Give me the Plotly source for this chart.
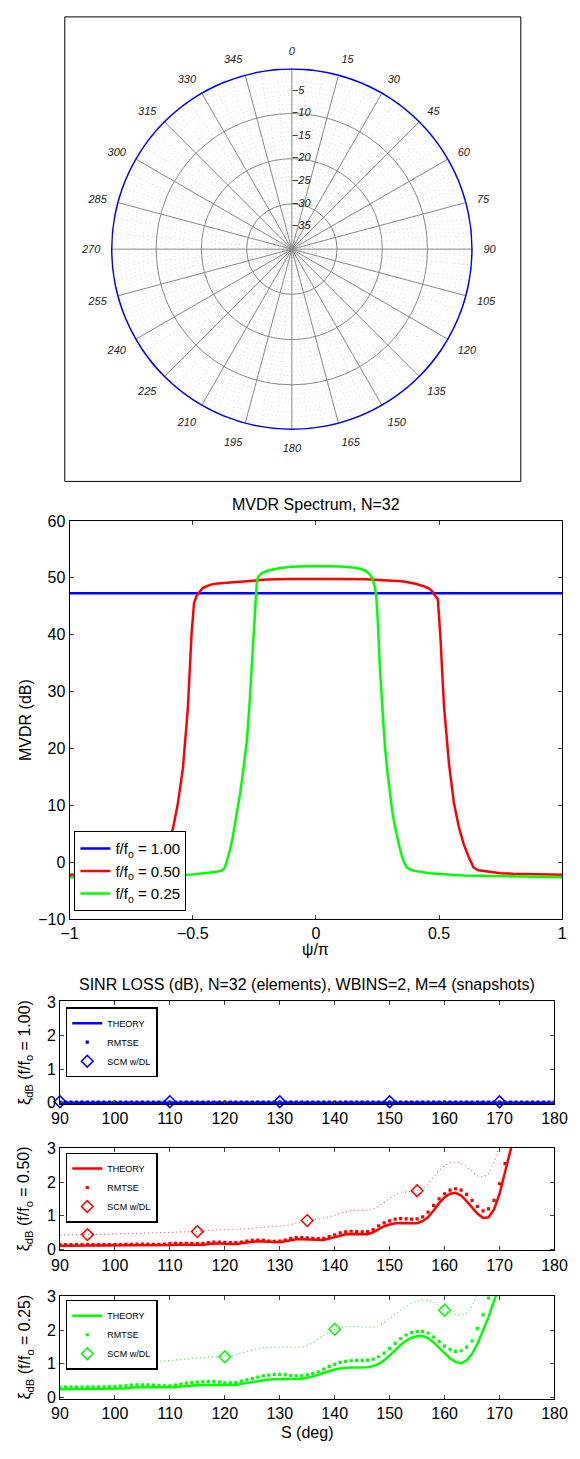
import plotly.graph_objects as go

W, H = 580, 1459
FONT = "Liberation Sans, Arial, Helvetica, sans-serif"

# ---------------- polar panel data ----------------
POLAR_ANGLE_TICKS = [0, 15, 30, 45, 60, 75, 90, 105, 120, 135, 150, 165,
                     180, 195, 210, 225, 240, 255, 270, 285, 300, 315, 330, 345]
POLAR_RADIAL_LABELS = [-5, -10, -15, -20, -25, -30, -35]
POLAR_RINGS = [-10, -20, -30]
POLAR_R_RANGE = [-40, 0]
POLAR_THETA = [0, 15, 30, 45, 60, 75, 90, 105, 120, 135, 150, 165, 180,
               195, 210, 225, 240, 255, 270, 285, 300, 315, 330, 345, 360]
POLAR_R_DB = [0.0, 0.0, 0.0, 0.0, 0.0, 0.0, 0.0, 0.0, 0.0, 0.0, 0.0, 0.0, 0.0,
              0.0, 0.0, 0.0, 0.0, 0.0, 0.0, 0.0, 0.0, 0.0, 0.0, 0.0, 0.0]

# ---------------- MVDR spectrum data ----------------
MVDR_LABELS = ["f/f<sub>o</sub> = 1.00", "f/f<sub>o</sub> = 0.50", "f/f<sub>o</sub> = 0.25"]
PSI_100 = [-1.0, 1.0]
MVDR_100 = [47.3, 47.3]
PSI_050 = [-1.0, -0.9, -0.8, -0.75, -0.7, -0.66, -0.64, -0.62, -0.60, -0.58, -0.56, -0.54,
           -0.52, -0.505, -0.495, -0.485, -0.475, -0.46, -0.44, -0.42, -0.40, -0.35, -0.30,
           -0.2, -0.1, 0.0, 0.1, 0.2, 0.3, 0.35, 0.40, 0.42, 0.44, 0.46, 0.475, 0.485, 0.495,
           0.505, 0.52, 0.54, 0.56, 0.58, 0.60, 0.62, 0.64, 0.66, 0.70, 0.75, 0.8, 0.9, 1.0]
MVDR_050 = [-2.2, -2.15, -2.0, -1.9, -1.6, -1.4, -0.9, 1.0, 3.2, 6.0, 10.5, 16.5,
            27.0, 40.0, 45.5, 46.8, 47.3, 48.2, 48.6, 48.9, 49.0, 49.2, 49.4,
            49.7, 49.8, 49.85, 49.8, 49.75, 49.5, 49.4, 49.0, 48.8, 48.5, 48.1, 47.5, 46.8, 46.3,
            40.0, 27.5, 17.5, 10.5, 6.3, 3.2, 1.0, -0.9, -1.4, -1.6, -1.9, -2.0, -2.15, -2.2]
PSI_025 = [-1.0, -0.9, -0.8, -0.7, -0.6, -0.52, -0.46, -0.43, -0.40, -0.385, -0.37, -0.36,
           -0.35, -0.34, -0.33, -0.32, -0.31, -0.30, -0.29, -0.28, -0.27, -0.26, -0.25, -0.245,
           -0.24, -0.235, -0.23, -0.22, -0.2, -0.15, -0.1, 0.0, 0.1, 0.15, 0.18, 0.2, 0.21,
           0.22, 0.23, 0.24, 0.245, 0.25, 0.26, 0.27, 0.28, 0.29, 0.30, 0.31, 0.32, 0.33,
           0.34, 0.35, 0.36, 0.37, 0.385, 0.40, 0.43, 0.46, 0.52, 0.6, 0.7, 0.8, 0.9, 1.0]
MVDR_025 = [-2.6, -2.55, -2.5, -2.4, -2.3, -2.2, -2.0, -1.8, -1.6, -1.5, -1.0, 0.4,
            2.0, 3.9, 6.3, 8.8, 11.5, 14.5, 17.6, 21.5, 27.5, 35.0, 43.5, 47.5,
            49.3, 50.0, 50.4, 50.8, 51.2, 51.7, 51.95, 52.1, 52.0, 51.8, 51.6, 51.3, 50.9,
            50.6, 49.8, 48.3, 46.8, 43.5, 34.0, 26.5, 20.5, 16.0, 12.2, 9.0, 6.5, 4.4,
            2.6, 1.0, -0.2, -0.9, -1.3, -1.5, -1.7, -1.9, -2.1, -2.3, -2.4, -2.5, -2.55, -2.6]
MVDR_X_TICKS = [-1, -0.5, 0, 0.5, 1]
MVDR_Y_TICKS = [-10, 0, 10, 20, 30, 40, 50, 60]

# ---------------- SINR loss data (1 degree grid) ----------------
S_DEG = list(range(90, 181))
SINR_X_TICKS = [90, 100, 110, 120, 130, 140, 150, 160, 170, 180]
SINR_Y_TICKS = [0, 1, 2, 3]
SINR_SERIES_NAMES = ["THEORY", "RMTSE", "SCM w/DL"]
PANEL_RATIOS = ["1.00", "0.50", "0.25"]

THEORY_100 = [0.00, 0.00, 0.00, 0.00, 0.00, 0.00, 0.00, 0.00, 0.00, 0.00,
              0.00, 0.00, 0.00, 0.00, 0.00, 0.00, 0.00, 0.00, 0.00, 0.00,
              0.00, 0.00, 0.00, 0.00, 0.00, 0.00, 0.00, 0.00, 0.00, 0.00,
              0.00, 0.00, 0.00, 0.00, 0.00, 0.00, 0.00, 0.00, 0.00, 0.00,
              0.00, 0.00, 0.00, 0.00, 0.00, 0.00, 0.00, 0.00, 0.00, 0.00,
              0.00, 0.00, 0.00, 0.00, 0.00, 0.00, 0.00, 0.00, 0.00, 0.00,
              0.00, 0.00, 0.00, 0.00, 0.00, 0.00, 0.00, 0.00, 0.00, 0.00,
              0.00, 0.00, 0.00, 0.00, 0.00, 0.00, 0.00, 0.00, 0.00, 0.00,
              0.00, 0.00, 0.00, 0.00, 0.00, 0.00, 0.00, 0.00, 0.00, 0.00,
              0.00]
RMTSE_100 = [0.02, 0.02, 0.02, 0.02, 0.02, 0.02, 0.02, 0.02, 0.02, 0.02,
             0.02, 0.02, 0.02, 0.02, 0.02, 0.02, 0.02, 0.02, 0.02, 0.02,
             0.02, 0.02, 0.02, 0.02, 0.02, 0.02, 0.02, 0.02, 0.02, 0.02,
             0.02, 0.02, 0.02, 0.02, 0.02, 0.02, 0.02, 0.02, 0.02, 0.02,
             0.02, 0.02, 0.02, 0.02, 0.02, 0.02, 0.02, 0.02, 0.02, 0.02,
             0.02, 0.02, 0.02, 0.02, 0.02, 0.02, 0.02, 0.02, 0.02, 0.02,
             0.02, 0.02, 0.02, 0.02, 0.02, 0.02, 0.02, 0.02, 0.02, 0.02,
             0.02, 0.02, 0.02, 0.02, 0.02, 0.02, 0.02, 0.02, 0.02, 0.02,
             0.02, 0.02, 0.02, 0.02, 0.02, 0.02, 0.02, 0.02, 0.02, 0.02,
             0.02]
SCM_100 = [0.03, 0.03, 0.03, 0.03, 0.03, 0.03, 0.03, 0.03, 0.03, 0.03,
           0.03, 0.03, 0.03, 0.03, 0.03, 0.03, 0.03, 0.03, 0.03, 0.03,
           0.03, 0.03, 0.03, 0.03, 0.03, 0.03, 0.03, 0.03, 0.03, 0.03,
           0.03, 0.03, 0.03, 0.03, 0.03, 0.03, 0.03, 0.03, 0.03, 0.03,
           0.03, 0.03, 0.03, 0.03, 0.03, 0.03, 0.03, 0.03, 0.03, 0.03,
           0.03, 0.03, 0.03, 0.03, 0.03, 0.03, 0.03, 0.03, 0.03, 0.03,
           0.03, 0.03, 0.03, 0.03, 0.03, 0.03, 0.03, 0.03, 0.03, 0.03,
           0.03, 0.03, 0.03, 0.03, 0.03, 0.03, 0.03, 0.03, 0.03, 0.03,
           0.03, 0.03, 0.03, 0.03, 0.03, 0.03, 0.03, 0.03, 0.03, 0.03,
           0.03]
SCM_MARKS_100 = [90, 110, 130, 150, 170]

THEORY_050 = [0.10, 0.10, 0.10, 0.10, 0.10, 0.10, 0.10, 0.10, 0.10, 0.10,
              0.10, 0.10, 0.11, 0.11, 0.12, 0.12, 0.12, 0.11, 0.11, 0.11,
              0.12, 0.13, 0.13, 0.13, 0.13, 0.12, 0.13, 0.15, 0.17, 0.17,
              0.16, 0.15, 0.15, 0.17, 0.20, 0.22, 0.23, 0.22, 0.20, 0.19,
              0.20, 0.23, 0.27, 0.29, 0.29, 0.28, 0.27, 0.26, 0.27, 0.31,
              0.36, 0.41, 0.44, 0.45, 0.44, 0.43, 0.44, 0.50, 0.60, 0.68,
              0.73, 0.77, 0.78, 0.77, 0.76, 0.77, 0.83, 0.95, 1.15, 1.37,
              1.55, 1.65, 1.68, 1.60, 1.43, 1.23, 1.05, 0.93, 0.95, 1.18,
              1.65, 2.30, 2.95, 3.60]
RMTSE_050 = [0.13, 0.13, 0.13, 0.13, 0.13, 0.13, 0.13, 0.13, 0.13, 0.13,
             0.13, 0.13, 0.14, 0.14, 0.15, 0.15, 0.15, 0.14, 0.14, 0.15,
             0.16, 0.17, 0.17, 0.17, 0.17, 0.16, 0.17, 0.19, 0.21, 0.21,
             0.20, 0.19, 0.19, 0.21, 0.24, 0.26, 0.27, 0.26, 0.24, 0.23,
             0.24, 0.27, 0.32, 0.34, 0.34, 0.33, 0.32, 0.31, 0.32, 0.37,
             0.42, 0.48, 0.51, 0.53, 0.52, 0.51, 0.52, 0.58, 0.69, 0.78,
             0.84, 0.89, 0.91, 0.90, 0.89, 0.90, 0.96, 1.10, 1.30, 1.50,
             1.65, 1.76, 1.80, 1.76, 1.63, 1.45, 1.27, 1.14, 1.20, 1.45,
             1.95, 2.55, 3.15]
SCM_050 = [0.42, 0.42, 0.42, 0.42, 0.43, 0.43, 0.43, 0.44, 0.44, 0.45,
           0.45, 0.46, 0.46, 0.47, 0.47, 0.48, 0.48, 0.48, 0.49, 0.49,
           0.50, 0.50, 0.51, 0.51, 0.52, 0.52, 0.54, 0.56, 0.57, 0.58,
           0.58, 0.58, 0.58, 0.59, 0.60, 0.62, 0.64, 0.66, 0.67, 0.67,
           0.68, 0.70, 0.73, 0.77, 0.81, 0.85, 0.88, 0.90, 0.92, 0.96,
           1.01, 1.07, 1.12, 1.15, 1.16, 1.16, 1.16, 1.20, 1.28, 1.40,
           1.52, 1.62, 1.69, 1.72, 1.73, 1.74, 1.80, 1.95, 2.15, 2.35,
           2.50, 2.58, 2.60, 2.56, 2.45, 2.30, 2.18, 2.15, 2.25, 2.60,
           3.10, 3.60]
SCM_MARKS_050 = [95, 115, 135, 155]

THEORY_025 = [0.24, 0.24, 0.24, 0.24, 0.24, 0.24, 0.25, 0.25, 0.25, 0.25,
              0.25, 0.26, 0.27, 0.29, 0.30, 0.30, 0.30, 0.29, 0.29, 0.29,
              0.29, 0.30, 0.32, 0.34, 0.35, 0.36, 0.37, 0.37, 0.37, 0.36,
              0.36, 0.36, 0.37, 0.40, 0.43, 0.46, 0.49, 0.52, 0.53, 0.54,
              0.54, 0.54, 0.54, 0.54, 0.55, 0.58, 0.62, 0.67, 0.73, 0.79,
              0.83, 0.86, 0.88, 0.89, 0.89, 0.89, 0.90, 0.93, 1.00, 1.10,
              1.24, 1.40, 1.56, 1.69, 1.78, 1.82, 1.83, 1.77, 1.64, 1.47,
              1.30, 1.16, 1.06, 1.01, 1.10, 1.30, 1.60, 2.00, 2.40, 2.88,
              3.35]
RMTSE_025 = [0.30, 0.30, 0.30, 0.30, 0.30, 0.30, 0.31, 0.31, 0.31, 0.31,
             0.32, 0.33, 0.34, 0.36, 0.37, 0.37, 0.37, 0.36, 0.35, 0.34,
             0.34, 0.36, 0.39, 0.42, 0.44, 0.45, 0.46, 0.47, 0.47, 0.45,
             0.43, 0.43, 0.44, 0.48, 0.52, 0.56, 0.60, 0.64, 0.66, 0.68,
             0.68, 0.67, 0.65, 0.64, 0.64, 0.67, 0.71, 0.76, 0.84, 0.92,
             0.98, 1.04, 1.07, 1.09, 1.10, 1.10, 1.11, 1.14, 1.21, 1.32,
             1.46, 1.61, 1.75, 1.86, 1.93, 1.96, 1.97, 1.92, 1.80, 1.66,
             1.53, 1.43, 1.37, 1.39, 1.50, 1.68, 2.05, 2.46, 2.96, 3.50]
SCM_025 = [1.00, 1.00, 1.00, 1.00, 1.00, 1.00, 1.00, 1.01, 1.01, 1.01,
           1.02, 1.03, 1.04, 1.05, 1.06, 1.07, 1.07, 1.07, 1.07, 1.08,
           1.09, 1.10, 1.12, 1.14, 1.16, 1.17, 1.18, 1.19, 1.20, 1.20,
           1.21, 1.23, 1.27, 1.32, 1.38, 1.43, 1.46, 1.48, 1.49, 1.50,
           1.51, 1.50, 1.49, 1.49, 1.50, 1.55, 1.63, 1.74, 1.86, 1.96,
           2.03, 2.08, 2.11, 2.12, 2.11, 2.09, 2.08, 2.09, 2.14, 2.23,
           2.35, 2.48, 2.60, 2.70, 2.80, 2.87, 2.90, 2.89, 2.84, 2.73,
           2.60, 2.52, 2.47, 2.46, 2.50, 2.72, 3.05, 3.50]
SCM_MARKS_025 = [100, 120, 140, 160]

COLORS = ["#0000ff", "#ff0000", "#00ff00"]
DOT_COLORS = ["rgba(0,0,255,0.6)", "rgba(255,0,0,0.6)", "rgba(0,220,0,0.7)"]


def dom_x(x0, x1):
    return [x0 / W, x1 / W]


def dom_y(top, bottom):
    return [1 - bottom / H, 1 - top / H]


fig = go.Figure()
lab_font = dict(family=FONT, size=11, color="#222", style="italic")

# ---------------- polar (fine dotted grid underneath, main grid + data on top) ----------------
fig.add_trace(go.Scatterpolar(r=[], theta=[], subplot="polar", showlegend=False, hoverinfo="skip"))
fig.add_trace(go.Scatterpolar(r=POLAR_R_DB, theta=POLAR_THETA, subplot="polar2", mode="lines",
                              line=dict(color="#0000ff", width=3, shape="spline"),
                              showlegend=False, hoverinfo="skip"))
# radial (dB) labels along the 0-degree spoke
fig.add_trace(go.Scatterpolar(r=POLAR_RADIAL_LABELS, theta=[0] * len(POLAR_RADIAL_LABELS),
                              subplot="polar2", mode="text",
                              text=["−%d" % (-v) for v in POLAR_RADIAL_LABELS],
                              textposition="middle right", textfont=lab_font,
                              cliponaxis=False, showlegend=False, hoverinfo="skip"))

# ---------------- MVDR ----------------
for psi, val, name, col in [(PSI_100, MVDR_100, MVDR_LABELS[0], COLORS[0]),
                            (PSI_050, MVDR_050, MVDR_LABELS[1], COLORS[1]),
                            (PSI_025, MVDR_025, MVDR_LABELS[2], COLORS[2])]:
    fig.add_trace(go.Scatter(x=psi, y=val, mode="lines", name=name,
                             line=dict(color=col, width=2.5),
                             xaxis="x", yaxis="y", legend="legend"))

# ---------------- SINR panels ----------------
panels = [
    (THEORY_100, RMTSE_100, SCM_100, SCM_MARKS_100),
    (THEORY_050, RMTSE_050, SCM_050, SCM_MARKS_050),
    (THEORY_025, RMTSE_025, SCM_025, SCM_MARKS_025),
]
for i, (th, rm, scm, marks) in enumerate(panels):
    ax = str(i + 2)
    leg = "legend" + ax
    col = COLORS[i]
    fig.add_trace(go.Scatter(x=S_DEG[:len(scm)], y=scm, mode="lines",
                             line=dict(color=DOT_COLORS[i], width=1.2, dash="1px,3px"),
                             showlegend=False, xaxis="x" + ax, yaxis="y" + ax, hoverinfo="skip"))
    fig.add_trace(go.Scatter(x=S_DEG[:len(th)], y=th, mode="lines", name=SINR_SERIES_NAMES[0],
                             line=dict(color=col, width=2.5),
                             xaxis="x" + ax, yaxis="y" + ax, legend=leg))
    fig.add_trace(go.Scatter(x=S_DEG[:len(rm)], y=rm, mode="markers", name=SINR_SERIES_NAMES[1],
                             marker=dict(color=col, size=3.2, symbol="square"),
                             xaxis="x" + ax, yaxis="y" + ax, legend=leg))
    my = [scm[S_DEG.index(s)] for s in marks]
    fig.add_trace(go.Scatter(x=marks, y=my, mode="markers", name=SINR_SERIES_NAMES[2],
                             marker=dict(color=col, size=9, symbol="diamond-open",
                                         line=dict(width=1.5, color=col)),
                             cliponaxis=False,
                             xaxis="x" + ax, yaxis="y" + ax, legend=leg))

# ---------------- layout ----------------
polar_dom = dict(x=dom_x(106, 482), y=dom_y(56, 432))

layout = dict(
    width=W, height=H, autosize=False,
    margin=dict(l=0, r=0, t=0, b=0),
    paper_bgcolor="white", plot_bgcolor="white",
    font=dict(family=FONT, size=16, color="black"),
    polar=dict(
        domain=polar_dom, bgcolor="white",
        radialaxis=dict(range=POLAR_R_RANGE, tickmode="linear", tick0=-40, dtick=1,
                        showticklabels=False, ticks="", showline=False,
                        gridcolor="#dedede", griddash="1px,3px", gridwidth=1),
        angularaxis=dict(rotation=90, direction="clockwise", tickmode="linear", tick0=0, dtick=5,
                         showticklabels=False, ticks="",
                         showline=False, gridcolor="#dedede", griddash="1px,3px", gridwidth=1),
    ),
    polar2=dict(
        domain=polar_dom, bgcolor="rgba(0,0,0,0)",
        radialaxis=dict(range=POLAR_R_RANGE, tickmode="array", tickvals=POLAR_RINGS,
                        showticklabels=False, ticks="", showline=False, angle=90,
                        gridcolor="#8a8a8a", gridwidth=1),
        angularaxis=dict(rotation=90, direction="clockwise", tickmode="array",
                         tickvals=POLAR_ANGLE_TICKS, ticktext=[str(a) for a in POLAR_ANGLE_TICKS],
                         ticks="outside", ticklen=8, tickcolor="rgba(0,0,0,0)",
                         showline=False, gridcolor="#8a8a8a", gridwidth=1,
                         tickfont=lab_font),
    ),
    xaxis=dict(domain=dom_x(63, 575), anchor="y", range=[-1, 1], tickvals=MVDR_X_TICKS,
               ticks="inside", ticklen=4, showline=True, linecolor="black", linewidth=1,
               mirror="ticks", showgrid=False, zeroline=False, tickfont=dict(size=16)),
    yaxis=dict(domain=dom_y(519, 922), anchor="x", range=[-10, 60], tickvals=MVDR_Y_TICKS,
               ticks="inside", ticklen=4, showline=True, linecolor="black", linewidth=1,
               mirror="ticks", showgrid=False, zeroline=False, tickfont=dict(size=16)),
    legend=dict(x=68 / W, y=1 - 833 / H, xanchor="left", yanchor="top", bordercolor="black",
                borderwidth=1, bgcolor="white", font=dict(size=15)),
)

panel_boxes = [(1005, 1109), (1153, 1257), (1303, 1407)]
legend_tops = [1011, 1158, 1307]
for i, (top, bot) in enumerate(panel_boxes):
    ax = str(i + 2)
    layout["xaxis" + ax] = dict(domain=dom_x(53, 567), anchor="y" + ax, range=[90, 180],
                                tickvals=SINR_X_TICKS, ticks="inside", ticklen=4, showline=True,
                                linecolor="black", linewidth=1, mirror="ticks", showgrid=False,
                                zeroline=False, tickfont=dict(size=16))
    layout["yaxis" + ax] = dict(domain=dom_y(top, bot), anchor="x" + ax, range=[-0.04, 3.03],
                                tickvals=SINR_Y_TICKS, ticks="inside", ticklen=4, showline=True,
                                linecolor="black", linewidth=1, mirror="ticks", showgrid=False,
                                zeroline=False, tickfont=dict(size=16))
    layout["legend" + ax] = dict(x=59 / W, y=1 - legend_tops[i] / H, xanchor="left", yanchor="top",
                                 bordercolor="black", borderwidth=1.5, bgcolor="white",
                                 font=dict(size=9))

annotations = [
    dict(text="MVDR Spectrum, N=32", x=319 / W, y=1 - 502 / H),
    dict(text="ψ/π", x=319 / W, y=1 - 953 / H),
    dict(text="MVDR (dB)", x=17 / W, y=1 - 720 / H, textangle=-90),
    dict(text="SINR LOSS (dB), N=32 (elements), WBINS=2, M=4 (snapshots)", x=310 / W, y=1 - 988 / H),
    dict(text="S (deg)", x=310 / W, y=1 - 1441 / H),
]
for i, (top, bot) in enumerate(panel_boxes):
    annotations.append(dict(text="ξ<sub>dB</sub> (f/f<sub>o</sub> = %s)" % PANEL_RATIOS[i],
                            x=17 / W, y=1 - (top + bot) / 2 / H, textangle=-90))
for a in annotations:
    a.update(xref="paper", yref="paper", xanchor="center", yanchor="middle", showarrow=False,
             font=dict(size=16, family=FONT, color="black"))
layout["annotations"] = annotations
layout["shapes"] = [dict(type="rect", xref="paper", yref="paper", x0=58 / W, x1=532 / W,
                         y0=1 - 479 / H, y1=1 - 9 / H, line=dict(color="black", width=1))]

fig.update_layout(**layout)
fig.write_html("out.html")
